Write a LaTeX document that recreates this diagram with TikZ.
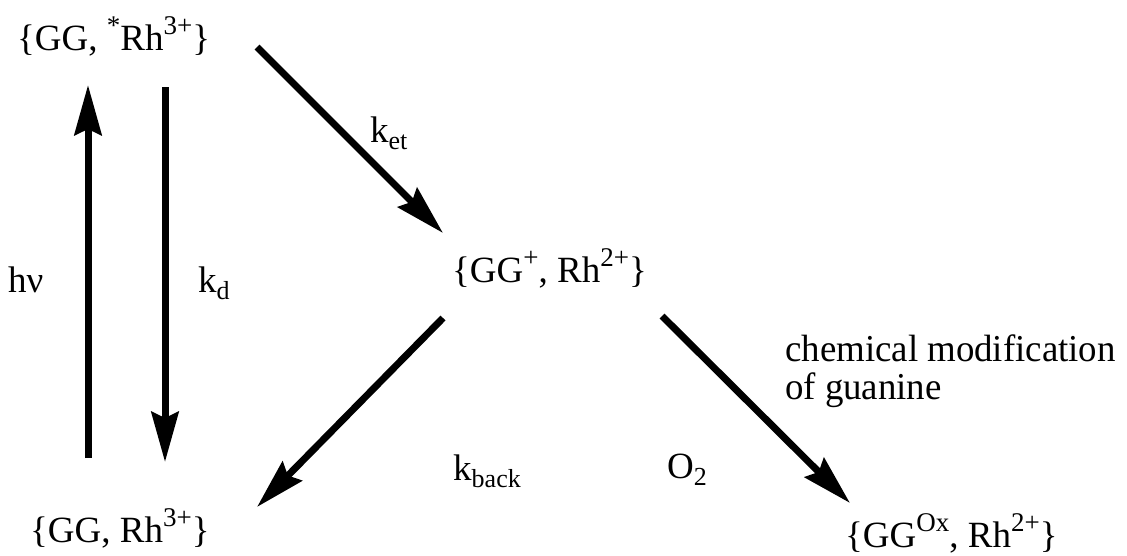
\documentclass[tikz,border=0pt]{standalone}
\usepackage{fontspec}
\setmainfont{Liberation Serif}
\newfontfamily\chemfont[FakeStretch=0.97]{Liberation Serif}
\usetikzlibrary{arrows.meta}
\newcommand\spr[1]{\raisebox{16pt}{\fontsize{27}{27}\selectfont #1}}
\newcommand\sbs[1]{\raisebox{-7pt}{\fontsize{26}{26}\selectfont #1}}
\begin{document}
\begin{tikzpicture}[x=1pt,y=-1pt,
  txt/.style={anchor=base west,inner sep=0pt,font=\fontsize{37}{40}\selectfont},
  chem/.style={anchor=north west,inner sep=0pt,align=left,font=\chemfont\fontsize{38}{38}\selectfont},
  rxn/.style={line width=7pt,-{Stealth[length=50pt,width=27pt,inset=6pt]}}]
\useasboundingbox (0,0) rectangle (1127,555);
% species
\node[txt] (exc) at (17,50) {\{GG, \spr{*}Rh\spr{3+}\}};
\node[txt] (cs) at (452,282) {\{GG\spr{+}, Rh\spr{2+}\}};
\node[txt] (gs) at (30,542) {\{GG, Rh\spr{3+}\}};
\node[txt] (ox) at (845,547) {\{GG\spr{Ox}, Rh\spr{2+}\}};
% labels
\node[txt] (hv) at (8,292) {hν};
\node[txt] (kd) at (198,292) {k\sbs{d}};
\node[txt] (ket) at (370,142) {k\sbs{et}};
\node[txt] (kb) at (453,480) {k\sbs{back}};
\node[txt] (o2) at (667,478) {O\sbs{2}};
\node[chem] (cm) at (785,335) {chemical modification\\of guanine};
% arrow ends
\coordinate (hvA) at (88,458);  \coordinate (hvB) at (88,85);
\coordinate (kdA) at (165,87);  \coordinate (kdB) at (165,462);
\coordinate (etA) at (257,47);  \coordinate (etB) at (443,233);
\coordinate (bkA) at (443,318); \coordinate (bkB) at (257,507);
\coordinate (oxA) at (662,316); \coordinate (oxB) at (850,503);
\draw[rxn] (hvA) -- (hvB);
\draw[rxn] (kdA) -- (kdB);
\draw[rxn] (etA) -- (etB);
\draw[rxn] (bkA) -- (bkB);
\draw[rxn] (oxA) -- (oxB);
\end{tikzpicture}
\end{document}
